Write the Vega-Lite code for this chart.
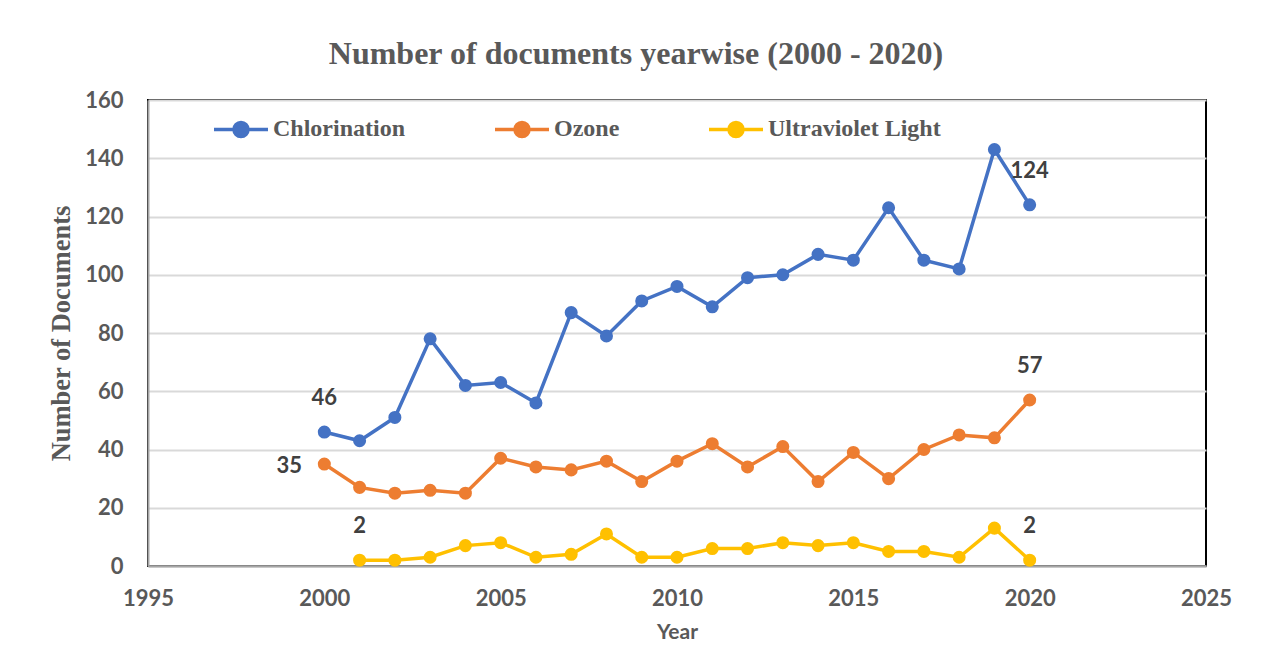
{
  "$schema": "https://vega.github.io/schema/vega-lite/v6.json",
  "width": 1058,
  "height": 466,
  "autosize": {"type": "none"},
  "padding": {"left": 148, "top": 100, "right": 56, "bottom": 80},
  "background": "white",
  "title": {
    "text": "Number of documents yearwise (2000 - 2020)",
    "font": "Liberation Serif",
    "fontSize": 32,
    "fontWeight": "bold",
    "color": "#595959",
    "anchor": "middle",
    "frame": "group",
    "dx": -41,
    "baseline": "alphabetic",
    "offset": -7
  },
  "config": {
    "view": {"stroke": "black", "strokeWidth": 2}
  },
  "data": {
    "values": [
      {"year": 2000, "series": "Chlorination", "count": 46},
      {"year": 2001, "series": "Chlorination", "count": 43},
      {"year": 2002, "series": "Chlorination", "count": 51},
      {"year": 2003, "series": "Chlorination", "count": 78},
      {"year": 2004, "series": "Chlorination", "count": 62},
      {"year": 2005, "series": "Chlorination", "count": 63},
      {"year": 2006, "series": "Chlorination", "count": 56},
      {"year": 2007, "series": "Chlorination", "count": 87},
      {"year": 2008, "series": "Chlorination", "count": 79},
      {"year": 2009, "series": "Chlorination", "count": 91},
      {"year": 2010, "series": "Chlorination", "count": 96},
      {"year": 2011, "series": "Chlorination", "count": 89},
      {"year": 2012, "series": "Chlorination", "count": 99},
      {"year": 2013, "series": "Chlorination", "count": 100},
      {"year": 2014, "series": "Chlorination", "count": 107},
      {"year": 2015, "series": "Chlorination", "count": 105},
      {"year": 2016, "series": "Chlorination", "count": 123},
      {"year": 2017, "series": "Chlorination", "count": 105},
      {"year": 2018, "series": "Chlorination", "count": 102},
      {"year": 2019, "series": "Chlorination", "count": 143},
      {"year": 2020, "series": "Chlorination", "count": 124},
      {"year": 2000, "series": "Ozone", "count": 35},
      {"year": 2001, "series": "Ozone", "count": 27},
      {"year": 2002, "series": "Ozone", "count": 25},
      {"year": 2003, "series": "Ozone", "count": 26},
      {"year": 2004, "series": "Ozone", "count": 25},
      {"year": 2005, "series": "Ozone", "count": 37},
      {"year": 2006, "series": "Ozone", "count": 34},
      {"year": 2007, "series": "Ozone", "count": 33},
      {"year": 2008, "series": "Ozone", "count": 36},
      {"year": 2009, "series": "Ozone", "count": 29},
      {"year": 2010, "series": "Ozone", "count": 36},
      {"year": 2011, "series": "Ozone", "count": 42},
      {"year": 2012, "series": "Ozone", "count": 34},
      {"year": 2013, "series": "Ozone", "count": 41},
      {"year": 2014, "series": "Ozone", "count": 29},
      {"year": 2015, "series": "Ozone", "count": 39},
      {"year": 2016, "series": "Ozone", "count": 30},
      {"year": 2017, "series": "Ozone", "count": 40},
      {"year": 2018, "series": "Ozone", "count": 45},
      {"year": 2019, "series": "Ozone", "count": 44},
      {"year": 2020, "series": "Ozone", "count": 57},
      {"year": 2001, "series": "Ultraviolet Light", "count": 2},
      {"year": 2002, "series": "Ultraviolet Light", "count": 2},
      {"year": 2003, "series": "Ultraviolet Light", "count": 3},
      {"year": 2004, "series": "Ultraviolet Light", "count": 7},
      {"year": 2005, "series": "Ultraviolet Light", "count": 8},
      {"year": 2006, "series": "Ultraviolet Light", "count": 3},
      {"year": 2007, "series": "Ultraviolet Light", "count": 4},
      {"year": 2008, "series": "Ultraviolet Light", "count": 11},
      {"year": 2009, "series": "Ultraviolet Light", "count": 3},
      {"year": 2010, "series": "Ultraviolet Light", "count": 3},
      {"year": 2011, "series": "Ultraviolet Light", "count": 6},
      {"year": 2012, "series": "Ultraviolet Light", "count": 6},
      {"year": 2013, "series": "Ultraviolet Light", "count": 8},
      {"year": 2014, "series": "Ultraviolet Light", "count": 7},
      {"year": 2015, "series": "Ultraviolet Light", "count": 8},
      {"year": 2016, "series": "Ultraviolet Light", "count": 5},
      {"year": 2017, "series": "Ultraviolet Light", "count": 5},
      {"year": 2018, "series": "Ultraviolet Light", "count": 3},
      {"year": 2019, "series": "Ultraviolet Light", "count": 13},
      {"year": 2020, "series": "Ultraviolet Light", "count": 2}
    ]
  },
  "encoding": {
    "x": {
      "field": "year",
      "type": "quantitative",
      "scale": {"domain": [1995, 2025], "nice": false, "zero": false},
      "axis": {
        "title": "Year",
        "values": [1995, 2000, 2005, 2010, 2015, 2020, 2025],
        "format": "d",
        "grid": false,
        "ticks": false,
        "domainColor": "#A6A6A6",
        "domainWidth": 2,
        "labelFont": "Lato",
        "labelFontSize": 22,
        "labelFontWeight": "bold",
        "labelColor": "#595959",
        "labelPadding": 22,
        "labelFlush": false,
        "titleFont": "Lato",
        "titleFontSize": 21,
        "titleFontWeight": "bold",
        "titleColor": "#595959",
        "titlePadding": 12
      }
    },
    "y": {
      "field": "count",
      "type": "quantitative",
      "scale": {"domain": [0, 160], "nice": false},
      "axis": {
        "title": "Number of Documents",
        "values": [0, 20, 40, 60, 80, 100, 120, 140, 160],
        "grid": true,
        "gridColor": "#D9D9D9",
        "gridWidth": 2,
        "ticks": false,
        "domainColor": "#A6A6A6",
        "domainWidth": 2,
        "labelFont": "Lato",
        "labelFontSize": 22,
        "labelFontWeight": "bold",
        "labelColor": "#595959",
        "labelPadding": 25,
        "labelFlush": false,
        "titleFont": "Liberation Serif",
        "titleFontSize": 26.5,
        "titleFontWeight": "bold",
        "titleColor": "#595959",
        "titlePadding": 9
      }
    }
  },
  "layer": [
    {
      "mark": {"type": "line", "strokeWidth": 3.5, "point": {"filled": true, "size": 170, "opacity": 1}},
      "encoding": {
        "color": {
          "field": "series",
          "type": "nominal",
          "sort": ["Chlorination", "Ozone", "Ultraviolet Light"],
          "scale": {"domain": ["Chlorination", "Ozone", "Ultraviolet Light"], "range": ["#4472C4", "#ED7D31", "#FFC000"]},
          "legend": {
            "title": null,
            "orient": "none",
            "direction": "horizontal",
            "columns": 3,
            "legendX": 64,
            "legendY": 0,
            "columnPadding": 82,
            "symbolType": "M -1 0 L 1 0 M 0.26 0 A 0.26 0.26 0 1 1 -0.26 0 A 0.26 0.26 0 1 1 0.26 0 Z",
            "symbolSize": 2916,
            "symbolStrokeWidth": 3.5,
            "labelFont": "Liberation Serif",
            "labelFontSize": 24,
            "labelFontWeight": "bold",
            "labelColor": "#595959",
            "labelOffset": 3,
            "labelLimit": 0,
            "encode": {
              "symbols": {
                "update": {
                  "fill": {"scale": "color", "field": "value"},
                  "stroke": {"scale": "color", "field": "value"},
                  "opacity": {"value": 1},
                  "fillOpacity": {"value": 1}
                }
              }
            }
          }
        }
      }
    },
    {
      "transform": [
        {"filter": "(datum.series == 'Chlorination' && (datum.year == 2000 || datum.year == 2020)) || (datum.series == 'Ozone' && datum.year == 2020) || (datum.series == 'Ultraviolet Light' && (datum.year == 2001 || datum.year == 2020))"}
      ],
      "mark": {"type": "text", "dy": -34, "font": "Lato", "fontSize": 22, "fontWeight": "bold", "color": "#404040", "align": "center", "baseline": "middle"},
      "encoding": {"text": {"field": "count", "type": "quantitative"}}
    },
    {
      "transform": [
        {"filter": "datum.series == 'Ozone' && datum.year == 2000"}
      ],
      "mark": {"type": "text", "dx": -35, "dy": 2, "font": "Lato", "fontSize": 22, "fontWeight": "bold", "color": "#404040", "align": "center", "baseline": "middle"},
      "encoding": {"text": {"field": "count", "type": "quantitative"}}
    }
  ]
}
